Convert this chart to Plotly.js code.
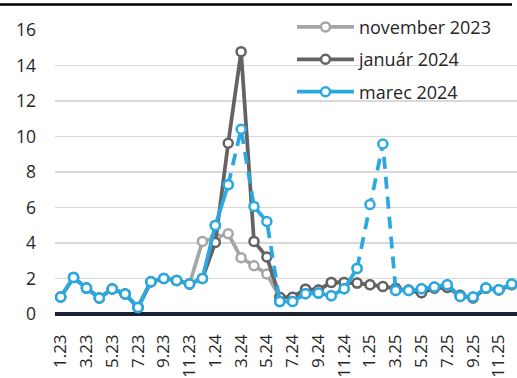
<!DOCTYPE html>
<html>
<head>
<meta charset="utf-8">
<script src="https://cdn.plot.ly/plotly-3.0.1.min.js"></script>
<style>
html,body{margin:0;padding:0;background:#fff;}
#chart{width:517px;height:378px;}
</style>
</head>
<body>
<div id="chart"></div>
<script>
// Categories: months 1.23 .. 12.25
const months = [
  "1.23","2.23","3.23","4.23","5.23","6.23","7.23","8.23","9.23","10.23","11.23","12.23",
  "1.24","2.24","3.24","4.24","5.24","6.24","7.24","8.24","9.24","10.24","11.24","12.24",
  "1.25","2.25","3.25","4.25","5.25","6.25","7.25","8.25","9.25","10.25","11.25","12.25"
];
const seriesNames = ["november 2023", "január 2024", "marec 2024"];

const nov2023 = [0.96,2.06,1.46,0.90,1.41,1.13,0.37,1.82,2.00,1.89,1.69,4.09,
                 4.30,4.52,3.17,2.72,2.26,0.92,0.95,1.40,1.35,1.78,1.78,1.74,
                 1.65,1.55,1.45,1.35,1.20,1.45,1.50,1.05,0.90,1.45,1.35,1.65];
const jan2024 = [0.96,2.06,1.46,0.90,1.41,1.13,0.37,1.82,2.00,1.89,1.69,2.00,
                 4.03,9.62,14.78,4.09,3.21,0.95,0.95,1.40,1.35,1.78,1.78,1.74,
                 1.65,1.55,1.45,1.35,1.20,1.45,1.50,1.05,0.90,1.45,1.35,1.65];
const mar2024 = [0.96,2.06,1.46,0.90,1.41,1.13,0.37,1.82,2.00,1.89,1.69,2.00,
                 4.99,7.28,10.41,6.06,5.21,0.70,0.71,1.14,1.18,1.03,1.42,2.57,
                 6.17,9.58,1.33,1.33,1.42,1.52,1.65,0.99,0.96,1.46,1.37,1.69];

// index ranges of the marec 2024 line drawn dashed / solid
const dashedSpans = [[13,17],[23,26]];
const solidSpans  = [[0,13],[17,23],[26,35]];

function keep(arr, spans){
  return arr.map((v,i)=> spans.some(s=> i>=s[0] && i<=s[1]) ? v : null);
}

const cLight = "#a6a6a6", cDark = "#636363", cBlue = "#2ca8e0";
const lw = 3.75;
function mk(color){ return {symbol:"circle", size:9, color:"#ffffff", line:{color:color, width:2.5}}; }

const traces = [
  {x:months, y:nov2023, name:seriesNames[0], legendgroup:"a", type:"scatter", mode:"lines+markers",
   line:{color:cLight, width:lw}, marker:mk(cLight)},
  {x:months, y:jan2024, name:seriesNames[1], legendgroup:"b", type:"scatter", mode:"lines+markers",
   line:{color:cDark, width:lw}, marker:mk(cDark)},
  {x:months, y:keep(mar2024, dashedSpans), name:seriesNames[2], legendgroup:"c", showlegend:false,
   type:"scatter", mode:"lines", connectgaps:false, line:{color:cBlue, width:lw, dash:"12px,8px"}},
  {x:months, y:keep(mar2024, solidSpans), name:seriesNames[2], legendgroup:"c", type:"scatter",
   mode:"lines+markers", connectgaps:false, line:{color:cBlue, width:lw}, marker:mk(cBlue)},
  {x:months, y:mar2024, name:seriesNames[2], legendgroup:"c", showlegend:false, type:"scatter",
   mode:"markers", marker:mk(cBlue)}
];

const font = {family:"Open Sans, sans-serif", size:17, color:"#262626"};
const legFont = {family:"Open Sans, sans-serif", size:18, color:"#262626"};
const layout = {
  width:517, height:378,
  margin:{l:55, r:0, t:30, b:64, pad:0},
  paper_bgcolor:"#ffffff", plot_bgcolor:"#ffffff",
  font:font,
  showlegend:true,
  legend:{x:0.513, y:1.075, xanchor:"left", yanchor:"top", traceorder:"grouped", tracegroupgap:6,
          itemwidth:57, bgcolor:"rgba(0,0,0,0)", font:legFont},
  xaxis:{type:"category", range:[-0.44,35.41], tickmode:"array",
         tickvals:months.filter((m,i)=>i%2===0), tickangle:-90, showgrid:false, zeroline:false,
         showline:false, ticks:"", ticklabelstandoff:16, tickfont:font, fixedrange:true},
  yaxis:{range:[0,16], dtick:2, tick0:0, showgrid:true, gridcolor:"#d9d9d9", gridwidth:1.5,
         zeroline:true, zerolinecolor:"#1b2332", zerolinewidth:3.5, showline:false, ticks:"",
         ticklabelstandoff:18, tickfont:{family:"Open Sans, sans-serif", size:17.5, color:"#262626"}, fixedrange:true},
  shapes:[{type:"line", xref:"paper", yref:"paper", x0:-55/462, x1:457/462, y0:1+25.5/284, y1:1+25.5/284,
           line:{color:"#000000", width:2.5}}]
};

Plotly.newPlot("chart", traces, layout, {displayModeBar:false, staticPlot:true});
</script>
</body>
</html>
